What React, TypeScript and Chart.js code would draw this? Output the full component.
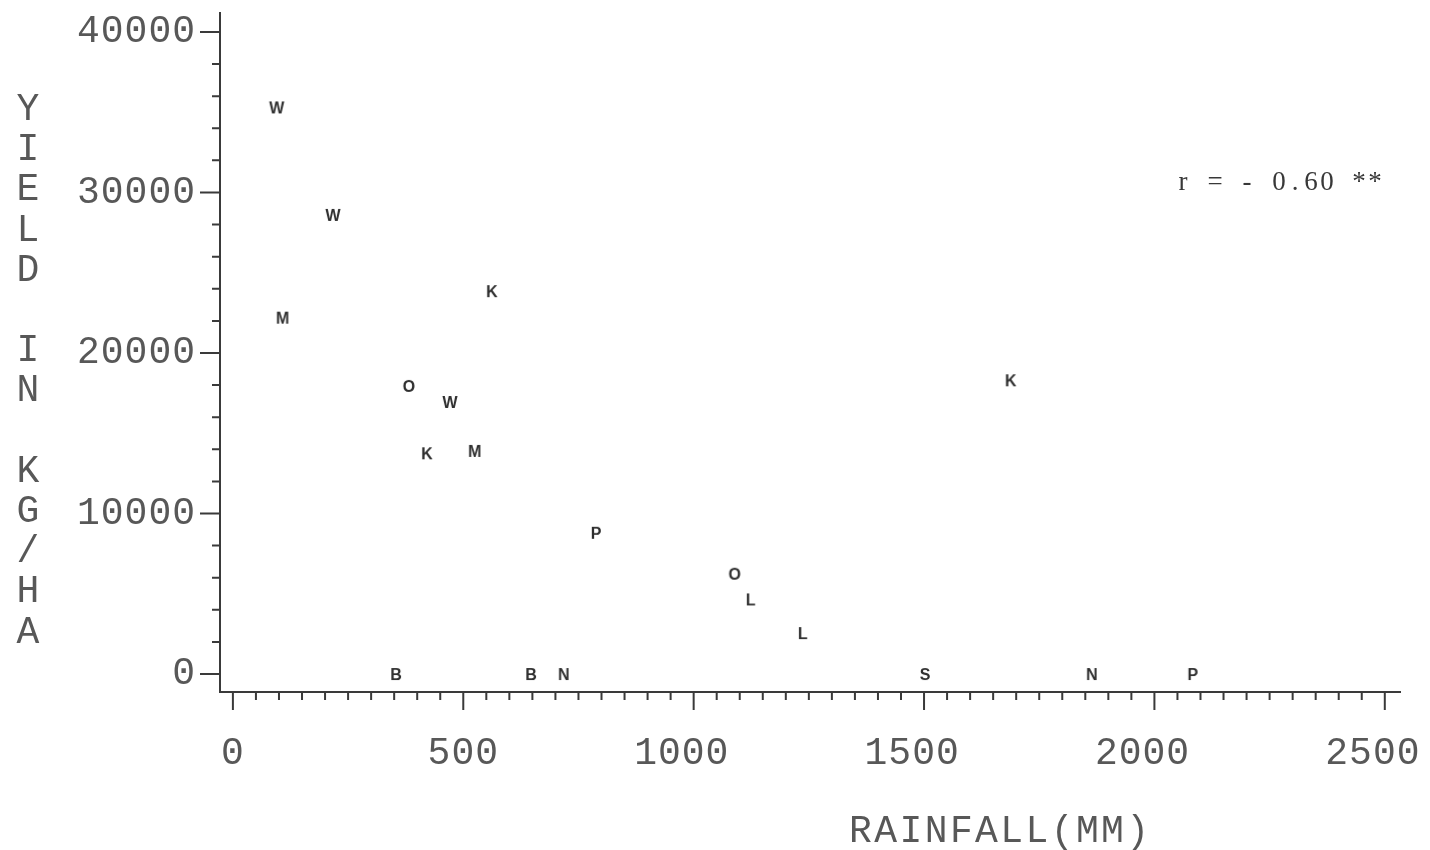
import { useEffect, useRef } from 'react';
import { Chart, registerables } from 'chart.js';

Chart.register(...registerables);

// Crop code of each observation and its values
const cropCodes = ['W', 'W', 'M', 'K', 'O', 'W', 'K', 'M', 'P', 'O', 'L', 'L', 'K', 'B', 'B', 'N', 'S', 'N', 'P'];
const rainfallMm = [95, 217, 108, 562, 382, 471, 421, 525, 788, 1089, 1124, 1237, 1688, 354, 647, 718, 1502, 1864, 2083];
const yieldKgHa = [35300, 28600, 22200, 23850, 17950, 16950, 13750, 13900, 8800, 6250, 4650, 2550, 18300, 0, 0, 0, 0, 0, 0];

// Axis ticks
const rainfallTicks = [0, 500, 1000, 1500, 2000, 2500];
const yieldTicks = [0, 10000, 20000, 30000, 40000];
const rainfallMinorStep = 50;
const yieldMinorStep = 2000;

const xTitle = 'RAINFALL(MM)';
const yTitle = 'YIELD IN KG/HA';
const correlationNote = 'r = - 0.60 **';

const PLOTTER_FONT = '"Liberation Mono", "DejaVu Sans Mono", monospace';
const INK = '#3a3a3a';
const TEXT_INK = '#585858';

function letterMarker(ch: string): HTMLCanvasElement {
  const c = document.createElement('canvas');
  c.width = 24;
  c.height = 24;
  const g = c.getContext('2d')!;
  g.font = 'bold 16px "Liberation Sans", Arial, sans-serif';
  g.fillStyle = '#2e2e2e';
  g.textAlign = 'center';
  g.textBaseline = 'alphabetic';
  g.fillText(ch, 12, 12 + 0.729 * 16 / 2);
  return c;
}

const plotterDecor = {
  id: 'plotterDecor',
  beforeDraw(chart: any) {
    chart.ctx.letterSpacing = '1px';
  },
  afterDraw(chart: any) {
    const { ctx, chartArea } = chart;
    const x = chart.scales.x;
    const y = chart.scales.y;
    ctx.save();
    ctx.letterSpacing = '0px';

    // minor and major tick marks
    ctx.strokeStyle = INK;
    ctx.lineWidth = 2;
    ctx.beginPath();
    const xEnd = rainfallTicks[rainfallTicks.length - 1];
    for (let v = 0; v <= xEnd; v += rainfallMinorStep) {
      const px = x.getPixelForValue(v);
      const len = rainfallTicks.includes(v) ? 18 : 8;
      ctx.moveTo(px, chartArea.bottom);
      ctx.lineTo(px, chartArea.bottom + len);
    }
    const yEnd = yieldTicks[yieldTicks.length - 1];
    for (let v = 0; v <= yEnd; v += yieldMinorStep) {
      const py = y.getPixelForValue(v);
      const len = yieldTicks.includes(v) ? 20 : 8;
      ctx.moveTo(chartArea.left - len, py);
      ctx.lineTo(chartArea.left, py);
    }
    ctx.stroke();

    // vertical axis title, one upright letter per line
    ctx.fillStyle = TEXT_INK;
    ctx.font = `38px ${PLOTTER_FONT}`;
    ctx.textAlign = 'center';
    ctx.textBaseline = 'middle';
    [...yTitle].forEach((ch, i) => {
      if (ch !== ' ') ctx.fillText(ch, 28, 110 + 40.2 * i);
    });

    // horizontal axis title
    [...xTitle].forEach((ch, i) => {
      ctx.fillText(ch, 860.5 + 25.2 * i, 832);
    });

    // correlation note
    ctx.fillStyle = '#383838';
    ctx.font = '27px "Liberation Serif", "DejaVu Serif", serif';
    [...correlationNote].forEach((ch, i) => {
      if (ch !== ' ') ctx.fillText(ch, 1183 + 16 * i, 183);
    });
    ctx.restore();
  },
};

function fixScaleBox(size: { width?: number; height?: number }) {
  return (s: any) => {
    if (size.width !== undefined) s.width = size.width;
    if (size.height !== undefined) s.height = size.height;
    s.paddingLeft = 0;
    s.paddingRight = 0;
    s.paddingTop = 0;
    s.paddingBottom = 0;
  };
}

export default function App() {
  const ref = useRef<HTMLCanvasElement>(null);

  useEffect(() => {
    if (!ref.current) return;
    const points = rainfallMm.map((r, i) => ({ x: r, y: yieldKgHa[i] }));
    const chart = new Chart(ref.current, {
      type: 'scatter',
      data: {
        datasets: [
          {
            data: points,
            pointStyle: cropCodes.map(letterMarker),
            pointRadius: 6,
            pointHoverRadius: 6,
          },
        ],
      },
      options: {
        animation: false,
        responsive: false,
        devicePixelRatio: 1,
        events: [],
        layout: { padding: { top: 13, right: 30, bottom: 0, left: 0 } },
        plugins: { legend: { display: false }, tooltip: { enabled: false } },
        scales: {
          x: {
            type: 'linear',
            min: -28,
            max: 2533,
            afterBuildTicks: (s: any) => {
              s.ticks = rainfallTicks.map((v) => ({ value: v }));
            },
            afterFit: fixScaleBox({ height: 158 }),
            grid: { drawOnChartArea: false, drawTicks: false },
            border: { display: true, color: INK, width: 2 },
            ticks: {
              autoSkip: false,
              maxRotation: 0,
              padding: 39,
              color: TEXT_INK,
              font: { family: PLOTTER_FONT, size: 38 },
              // four-digit labels sit half a character left of their tick
              callback: (v: any) => (String(v).length > 3 ? `${v} ` : String(v)),
            },
          },
          y: {
            type: 'linear',
            min: -1120,
            max: 41180,
            afterBuildTicks: (s: any) => {
              s.ticks = yieldTicks.map((v) => ({ value: v }));
            },
            afterFit: fixScaleBox({ width: 220 }),
            grid: { drawOnChartArea: false, drawTicks: false },
            border: { display: true, color: INK, width: 2 },
            ticks: {
              autoSkip: false,
              padding: 24,
              color: TEXT_INK,
              font: { family: PLOTTER_FONT, size: 38 },
              callback: (v: any) => String(v),
            },
          },
        },
      },
      plugins: [plotterDecor],
    });
    return () => chart.destroy();
  }, []);

  return (
    <div style={{ position: 'absolute', left: 0, top: 0, width: 1430, height: 850, background: '#fff' }}>
      <canvas ref={ref} width={1430} height={850} />
    </div>
  );
}
